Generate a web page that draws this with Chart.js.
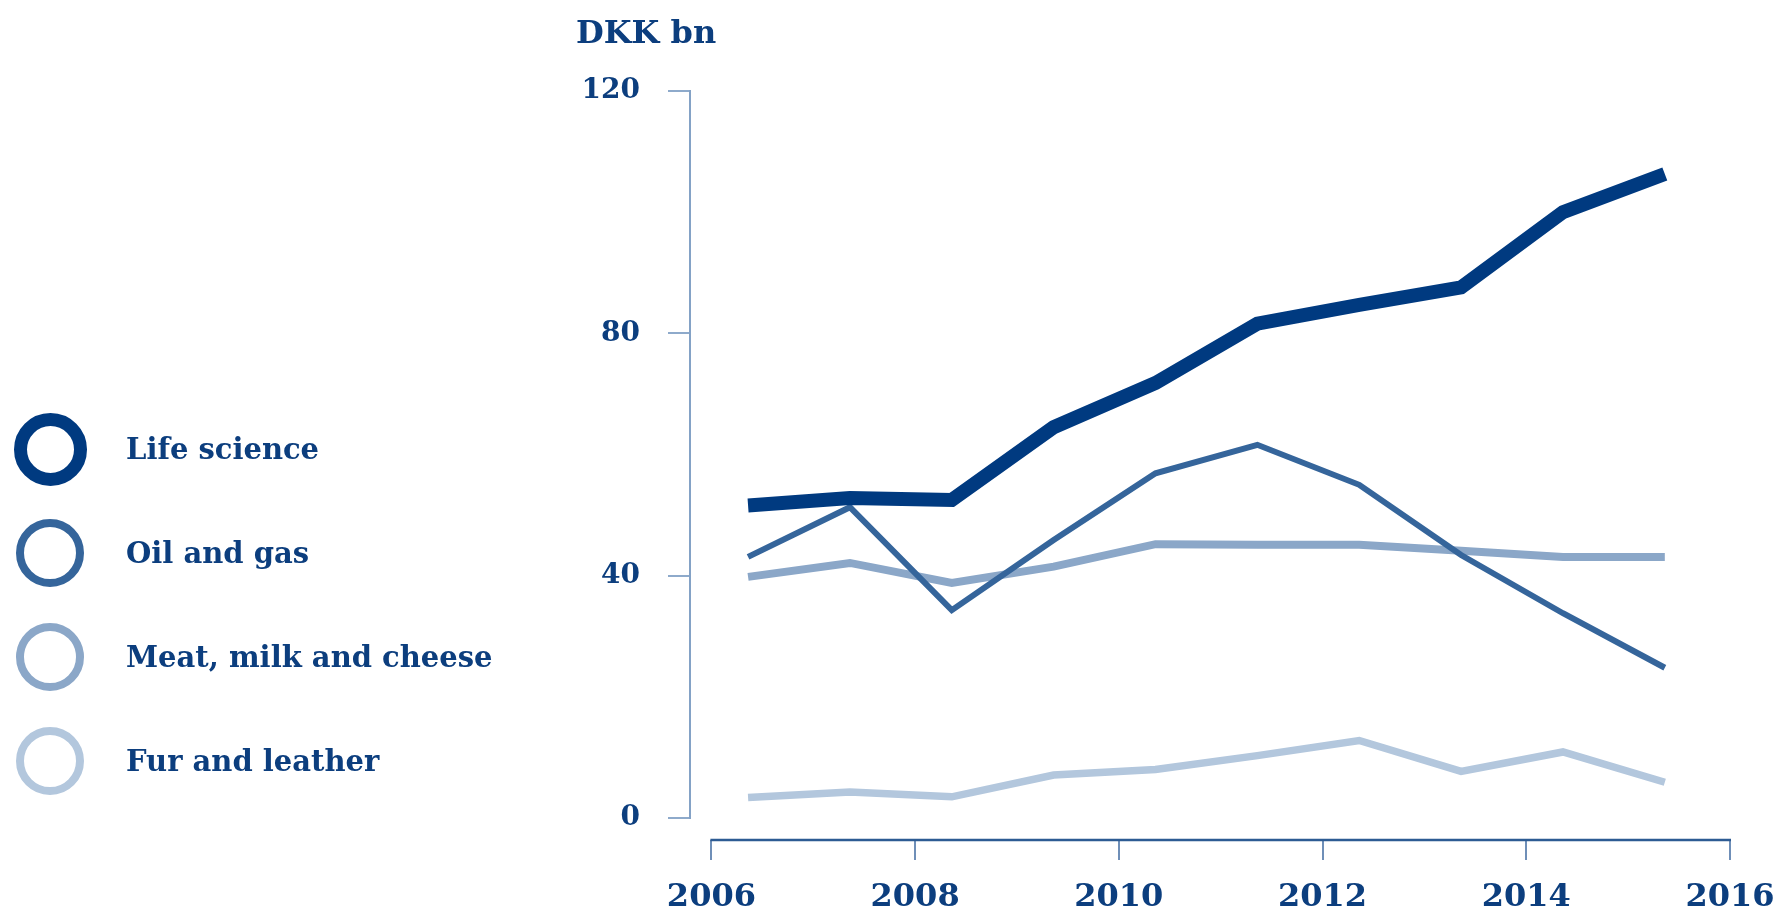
<!DOCTYPE html>
<html>
<head>
<meta charset="utf-8">
<script src="https://cdn.jsdelivr.net/npm/chart.js@4.4.1/dist/chart.umd.min.js"></script>
<style>
  html, body { margin: 0; padding: 0; background: #fff; }
  #wrap { position: relative; width: 1781px; height: 914px; }
  #legend { position: absolute; left: 0; top: 397px; width: 560px; }
  .item { position: relative; height: 104px; }
  .ring { position: absolute; box-sizing: border-box; border-radius: 50%; }
  .lbl {
    position: absolute; left: 126px; top: 50%; transform: translateY(-50%);
    font-family: 'DejaVu Serif', serif; font-weight: bold; font-size: 29px;
    color: #0c3e7e; white-space: nowrap;
  }
</style>
</head>
<body>
<div id="wrap">
  <canvas id="chart" width="1781" height="914"></canvas>
  <div id="legend"></div>
</div>
<script>
// ── data ─────────────────────────────────────────────────────────────
const years   = [2006, 2007, 2008, 2009, 2010, 2011, 2012, 2013, 2014, 2015];
const xTicks  = [2006, 2008, 2010, 2012, 2014, 2016];
const yTicks  = [0, 40, 80, 120];

const lifeScience = [51.6, 52.8, 52.5, 64.5, 71.8, 81.6, 84.7, 87.6, 100.0, 106.3];
const oilGas      = [43.1, 51.3, 34.3, 45.9, 56.9, 61.6, 55.0, 43.4, 33.8, 24.8];
const meatMilk    = [39.8, 42.1, 38.8, 41.5, 45.2, 45.1, 45.1, 44.1, 43.1, 43.1];
const furLeather  = [3.4, 4.3, 3.5, 7.1, 8.0, 10.3, 12.8, 7.7, 10.9, 5.9];

const seriesNames = ['Life science', 'Oil and gas', 'Meat, milk and cheese', 'Fur and leather'];

// ── style ────────────────────────────────────────────────────────────
const TXT  = '#0c3e7e';
const FONT = "'DejaVu Serif', serif";
const colors = ['#003a80', '#35659b', '#8ba7c8', '#b3c7dd'];
const widths = [14, 6, 8, 7.5];
const yearShift = 0.36; // values sit a bit after the year tick

const toPoints = vals => years.map((yr, i) => ({ x: yr + yearShift, y: vals[i] }));

const datasets = [lifeScience, oilGas, meatMilk, furLeather].map((vals, i) => ({
  label: seriesNames[i],
  data: toPoints(vals),
  borderColor: colors[i],
  backgroundColor: colors[i],
  borderWidth: widths[i],
  borderJoinStyle: 'miter',
  borderCapStyle: 'butt',
  pointRadius: 0,
  tension: 0,
  fill: false
}));

// axis lines that stop at first/last tick (detached look)
const axisLines = {
  id: 'axisLines',
  beforeDatasetsDraw(chart) {
    const { ctx, chartArea, scales: { x, y } } = chart;
    ctx.save();
    ctx.lineWidth = 2;
    ctx.strokeStyle = '#84a2c6';
    ctx.beginPath();
    ctx.moveTo(chartArea.left, y.getPixelForValue(yTicks[0]) + 1);
    ctx.lineTo(chartArea.left, y.getPixelForValue(yTicks[yTicks.length - 1]) - 1);
    ctx.stroke();
    ctx.lineWidth = 2.5;
    ctx.strokeStyle = '#2d5b93';
    ctx.beginPath();
    ctx.moveTo(x.getPixelForValue(xTicks[0]) - 1, chartArea.bottom);
    ctx.lineTo(x.getPixelForValue(xTicks[xTicks.length - 1]) + 1, chartArea.bottom);
    ctx.stroke();
    ctx.restore();
  }
};

const chart = new Chart(document.getElementById('chart'), {
  type: 'line',
  data: { datasets },
  plugins: [axisLines],
  options: {
    responsive: false,
    animation: false,
    layout: { padding: { left: 576, right: 51, top: 0, bottom: 0 } },
    plugins: {
      legend: { display: false },
      tooltip: { enabled: false },
      title: {
        display: true, text: 'DKK bn', align: 'start', color: TXT,
        font: { family: FONT, size: 32, weight: 'bold', lineHeight: 1.2 },
        padding: { top: 15, bottom: 37.6 }
      }
    },
    scales: {
      x: {
        type: 'linear', min: 2005.79, max: 2016,
        afterBuildTicks: s => { s.ticks = xTicks.map(v => ({ value: v })); },
        afterFit: s => { s.paddingLeft = 0; s.paddingRight = 0; s.height = 74; },
        border: { display: false },
        grid: { drawOnChartArea: false, drawTicks: true, tickLength: 20, color: '#6f8fb8', lineWidth: 2 },
        ticks: {
          color: TXT, padding: 22, maxRotation: 0, autoSkip: false,
          font: { family: FONT, size: 32, weight: 'bold', lineHeight: 1 },
          callback: v => String(v)
        }
      },
      y: {
        min: -3.63, max: 120,
        afterBuildTicks: s => { s.ticks = yTicks.map(v => ({ value: v })); },
        afterFit: s => { s.width = 114; },
        border: { display: false },
        grid: { drawOnChartArea: false, drawTicks: true, tickLength: 22, color: '#8eaacb', lineWidth: 2 },
        ticks: {
          color: TXT, padding: 28,
          font: { family: FONT, size: 28, weight: 'bold' },
          callback: v => String(v)
        }
      }
    }
  }
});

// ── legend (rings + names) from the chart's datasets ─────────────────
const legendEl = document.getElementById('legend');
chart.data.datasets.forEach(ds => {
  const row = document.createElement('div');
  row.className = 'item';
  const ring = document.createElement('span');
  ring.className = 'ring';
  const bw = Math.max(ds.borderWidth - 1, 8);
  const size = 60 + bw;
  ring.style.width = size + 'px';
  ring.style.height = size + 'px';
  ring.style.left = (50 - size / 2) + 'px';
  ring.style.top = (52 - size / 2) + 'px';
  ring.style.border = bw + 'px solid ' + ds.borderColor;
  const lbl = document.createElement('span');
  lbl.className = 'lbl';
  lbl.textContent = ds.label;
  row.appendChild(ring);
  row.appendChild(lbl);
  legendEl.appendChild(row);
});
</script>
</body>
</html>
